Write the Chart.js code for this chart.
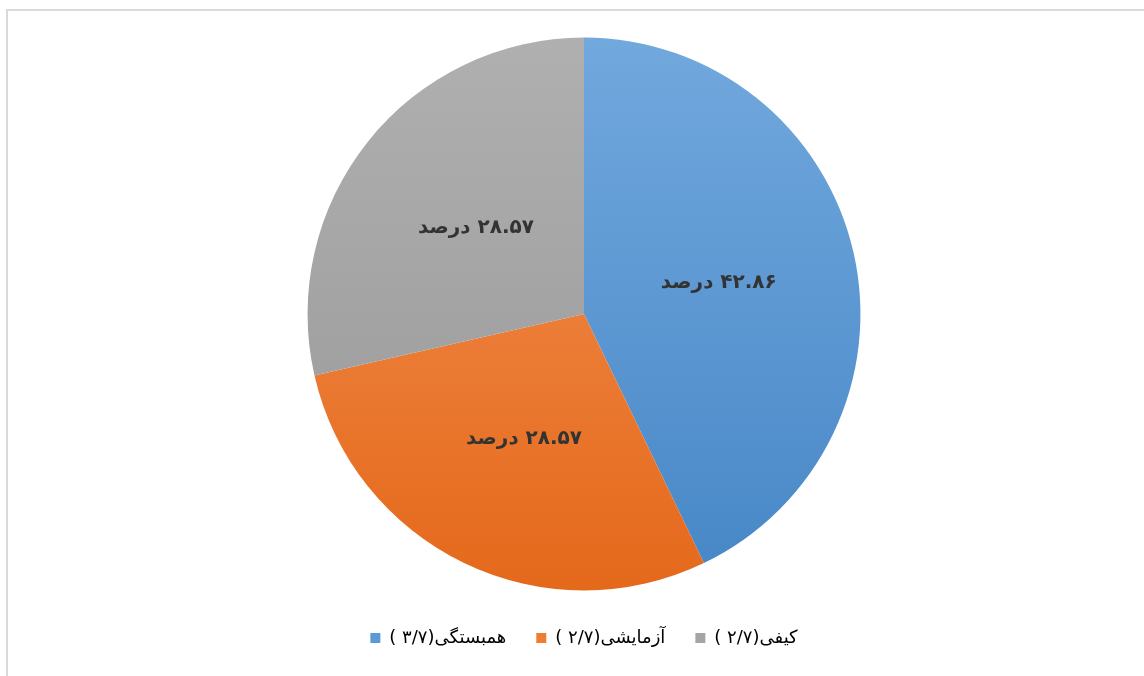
<!DOCTYPE html>
<html>
<head>
<meta charset="utf-8">
<script src="https://cdn.jsdelivr.net/npm/chart.js@4.4.1/dist/chart.umd.min.js"></script>
<style>
  html, body { margin: 0; padding: 0; background: #fff; }
  #frame {
    position: absolute; left: 6px; top: 9px; width: 1140px; height: 670px;
    border-left: 2px solid #d9d9d9; border-top: 2px solid #d9d9d9;
  }
  #wrap { position: absolute; left: 0; top: 0; width: 1138px; height: 667px; }
</style>
</head>
<body>
<div id="frame"><div id="wrap"><canvas id="pie"></canvas></div></div>
<script>
// categories and values (percent)
const categories = ["همبستگی(۳/۷ )", "آزمایشی(۲/۷ )", "کیفی(۲/۷ )"];
const values = [42.86, 28.57, 28.57];
const valueLabels = ["۴۲.۸۶ درصد", "۲۸.۵۷ درصد", "۲۸.۵۷ درصد"];

const topColors = ["#72a9de", "#f49355", "#b0b0b0"];
const bottomColors = ["#4686c6", "#e4681a", "#979797"];
const legendColors = ["#5b9bd5", "#ed7d31", "#a5a5a5"];

function sliceFill(context) {
    const chart = context.chart;
    const area = chart.chartArea;
    const i = context.dataIndex;
    if (!area) return legendColors[i];
    const g = chart.ctx.createLinearGradient(0, area.top, 0, area.bottom);
    g.addColorStop(0, topColors[i]);
    g.addColorStop(1, bottomColors[i]);
    return g;
}

// draw the value labels inside each slice
const sliceLabels = {
    id: "sliceLabels",
    afterDatasetsDraw(chart) {
        const ctx = chart.ctx;
        const meta = chart.getDatasetMeta(0);
        ctx.save();
        ctx.font = "bold 20px 'DejaVu Sans'";
        ctx.fillStyle = "#333333";
        ctx.textAlign = "center";
        ctx.textBaseline = "middle";
        ctx.direction = "rtl";
        meta.data.forEach((arc, i) => {
            const p = arc.getProps(["x", "y", "startAngle", "endAngle", "outerRadius"], true);
            const mid = (p.startAngle + p.endAngle) / 2;
            const r = p.outerRadius * 0.5;
            ctx.fillText(valueLabels[i], p.x + Math.cos(mid) * r, p.y + Math.sin(mid) * r);
        });
        ctx.restore();
    }
};

new Chart(document.getElementById("pie"), {
    type: "pie",
    data: {
        labels: categories,
        datasets: [{
            data: values,
            backgroundColor: sliceFill,
            borderWidth: 0,
            radius: "97%"
        }]
    },
    options: {
        responsive: true,
        maintainAspectRatio: false,
        animation: false,
        layout: { padding: { top: 18, bottom: 21, left: 14 } },
        plugins: {
            tooltip: { enabled: false },
            legend: {
                position: "bottom",
                textDirection: "rtl",
                labels: {
                    boxWidth: 10,
                    boxHeight: 10,
                    padding: 30,
                    color: "#6b6b6b",
                    font: { family: "'DejaVu Sans'", size: 18 },
                    generateLabels(chart) {
                        return categories.map((c, i) => ({
                            text: c,
                            fillStyle: legendColors[i],
                            strokeStyle: legendColors[i],
                            lineWidth: 0,
                            index: i
                        }));
                    }
                }
            }
        }
    },
    plugins: [sliceLabels]
});
</script>
</body>
</html>
